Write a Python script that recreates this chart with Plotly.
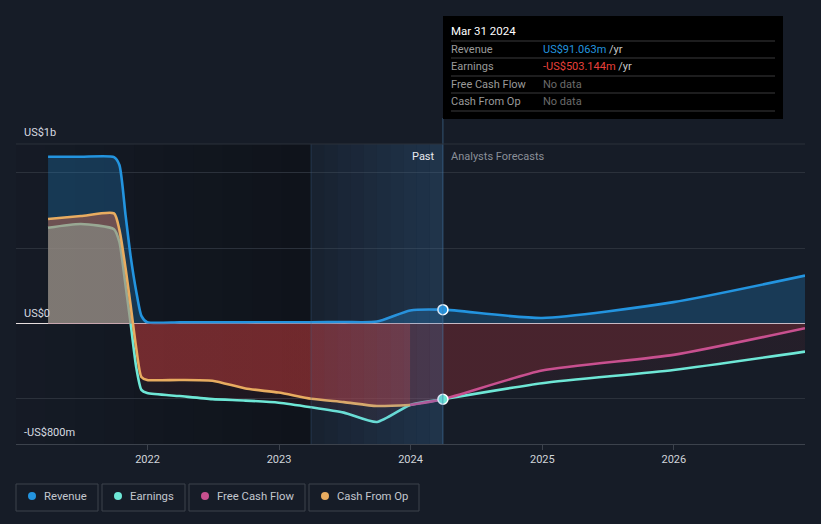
import plotly.graph_objects as go
import pandas as pd

# ---------------- data (US$ millions) ----------------
rev_dates = ["2021-03-31", "2021-06-30", "2021-09-30", "2021-10-15", "2021-11-01", "2021-11-15",
             "2021-12-01", "2021-12-15", "2021-12-31", "2022-03-31", "2022-06-30",
             "2022-09-30", "2022-12-31", "2023-03-31", "2023-06-30", "2023-09-30", "2023-12-31",
             "2024-03-31", "2024-12-31", "2025-12-31", "2026-12-31"]
rev_vals = [1105, 1105, 1103, 1051, 720, 448, 209, 50, 8, 7, 7, 7, 8, 8, 9, 12, 86, 91.063, 36, 141, 317]

earn_dates = ["2021-03-31", "2021-06-30", "2021-09-30", "2021-10-15", "2021-11-01", "2021-11-15",
              "2021-12-01", "2021-12-15", "2021-12-31", "2022-03-31", "2022-06-30",
              "2022-09-30", "2022-12-31", "2023-03-31", "2023-06-30", "2023-09-30", "2023-12-31",
              "2024-03-31", "2024-12-31", "2025-12-31", "2026-12-31"]
earn_vals = [634, 659, 625, 540, 255, 3, -295, -441, -462, -482, -502, -512, -526, -556, -592,
             -654, -541, -503.144, -397, -309, -187]

cfo_dates = ["2021-03-31", "2021-06-30", "2021-09-30", "2021-10-15", "2021-11-01", "2021-11-15",
             "2021-12-01", "2021-12-15", "2021-12-31", "2022-03-31", "2022-06-30",
             "2022-09-30", "2022-12-31", "2023-03-31", "2023-06-30", "2023-09-30", "2023-12-31"]
cfo_vals = [692, 712, 730, 620, 368, 122, -169, -355, -375, -375, -380, -432, -459, -500, -522, -548, -541]

fcf_dates = ["2023-12-31", "2024-03-31", "2024-12-31", "2025-12-31", "2026-12-31"]
fcf_vals = [-541, -503.144, -313, -209, -32]

past_end = "2024-03-31"
past_start = "2023-03-31"
x_range = ["2021-01-01", "2026-12-31"]
y_range = [-800, 1190]
y_grid = [-500, 500, 1000]
x_ticks = ["2022-01-01", "2023-01-01", "2024-01-01", "2025-01-01", "2026-01-01"]
x_tick_text = ["2022", "2023", "2024", "2025", "2026"]

C_REV = "#2394df"
C_EARN = "#6ee7d6"
C_FCF = "#c8508f"
C_CFO = "#e8ac60"
BG = "#161c27"
GRID = "#2b313b"
FONT = "Roboto"

# ---------------- geometry helpers (pixels -> paper) ----------------
PL, PR, PT, PB = 16, 805, 144, 444
W, H = PR - PL, PB - PT


def px(x):
    return (x - PL) / W


def py(y):
    return (PB - y) / H


fig = go.Figure()

spline = dict(shape="spline", smoothing=0.6, width=2.6)


def vgrad(neg, pos):
    brk = (0 - y_range[0]) / (y_range[1] - y_range[0])
    return dict(type="vertical", start=y_range[0], stop=y_range[1],
                colorscale=[[0, neg], [brk, neg], [brk, pos], [1, pos]])


fig.add_trace(go.Scatter(x=rev_dates, y=rev_vals, mode="lines", name="Revenue",
                         line=dict(color=C_REV, **spline), fill="tozeroy",
                         fillcolor="rgba(35,148,223,0.26)"))
fig.add_trace(go.Scatter(x=earn_dates, y=earn_vals, mode="lines", name="Earnings",
                         line=dict(color=C_EARN, **spline), fill="tozeroy",
                         fillgradient=vgrad("rgba(200,60,70,0.08)", "rgba(90,210,215,0.5)")))
fig.add_trace(go.Scatter(x=cfo_dates, y=cfo_vals, mode="lines", name="Cash From Op",
                         line=dict(color=C_CFO, **spline), fill="tozeroy",
                         fillgradient=vgrad("rgba(188,58,58,0.52)", "rgba(195,105,80,0.5)")))
fig.add_trace(go.Scatter(x=fcf_dates, y=fcf_vals, mode="lines", name="Free Cash Flow",
                         line=dict(color=C_FCF, **spline), fill="tozeroy",
                         fillcolor="rgba(180,50,60,0.25)"))

i_rev = rev_dates.index(past_end)
i_earn = earn_dates.index(past_end)
fig.add_trace(go.Scatter(x=[past_end], y=[rev_vals[i_rev]], mode="markers",
                         marker=dict(color=C_REV, size=10, line=dict(color="white", width=1.5))))
fig.add_trace(go.Scatter(x=[past_end], y=[earn_vals[i_earn]], mode="markers",
                         marker=dict(color=C_EARN, size=10, line=dict(color="white", width=1.5))))

shapes = []
# darker past background (gradient towards the highlighted year)
t0 = pd.Timestamp(x_range[0])
t1 = pd.Timestamp(past_start)
n = 10
for k in range(n):
    a = t0 + (t1 - t0) * k / n
    b = t0 + (t1 - t0) * (k + 1) / n
    shapes.append(dict(type="rect", xref="x", yref="paper", x0=a, x1=b, y0=0, y1=1,
                       fillcolor=f"rgba(0,0,0,{0.04 + 0.26 * k / (n - 1):.3f})", line_width=0,
                       layer="below"))
# highlighted last year (gradient)
t2 = pd.Timestamp(past_end)
n = 10
for k in range(n):
    a = t1 + (t2 - t1) * k / n
    b = t1 + (t2 - t1) * (k + 1) / n
    shapes.append(dict(type="rect", xref="x", yref="paper", x0=a, x1=b, y0=0, y1=1,
                       fillcolor=f"rgba(70,140,210,{0.06 + 0.15 * k / (n - 1):.3f})", line_width=0,
                       layer="above"))
# edge lines
shapes.append(dict(type="line", xref="x", yref="paper", x0=past_start, x1=past_start, y0=0, y1=1,
                   line=dict(color="rgba(70,110,150,0.35)", width=1), layer="above"))
shapes.append(dict(type="line", xref="x", yref="paper", x0=past_end, x1=past_end, y0=0, y1=py(118),
                   line=dict(color="rgba(70,120,165,0.6)", width=1), layer="above"))
# top border line
shapes.append(dict(type="line", xref="paper", yref="paper", x0=0, x1=1, y0=1, y1=1,
                   line=dict(color=GRID, width=1)))

# tooltip box
shapes.append(dict(type="rect", xref="paper", yref="paper", x0=px(443), x1=px(783),
                   y0=py(119), y1=py(16), fillcolor="#000000", line_width=0, layer="above"))
for ly in [41, 58, 76, 93, 111]:
    shapes.append(dict(type="line", xref="paper", yref="paper", x0=px(451), x1=px(775),
                       y0=py(ly), y1=py(ly), line=dict(color="#3a3b3d", width=1), layer="above"))

# legend boxes & dots
legend_items = [("Revenue", C_REV, 16, 98, 32, 44),
                ("Earnings", C_EARN, 102, 185, 118, 130),
                ("Free Cash Flow", C_FCF, 189, 305, 205, 217),
                ("Cash From Op", C_CFO, 309, 419, 325, 337)]
annotations = []
PAD = 2  # annotation inner padding in px
for name, col, bx0, bx1, dx, tx in legend_items:
    shapes.append(dict(type="rect", xref="paper", yref="paper", x0=px(bx0), x1=px(bx1),
                       y0=py(511), y1=py(484), line=dict(color="#3c424c", width=1),
                       fillcolor="rgba(0,0,0,0)"))
    shapes.append(dict(type="circle", xref="paper", yref="paper", x0=px(dx - 4), x1=px(dx + 4),
                       y0=py(500), y1=py(492), fillcolor=col, line_width=0))
    annotations.append(dict(xref="paper", yref="paper", x=px(tx - PAD), y=py(496.5), text=name,
                            showarrow=False, xanchor="left", yanchor="middle",
                            font=dict(family=FONT, size=11.3, color="#c3c7ce")))

# y labels
for txt, yc in [("US$1b", 132), ("US$0", 313), ("-US$800m", 432)]:
    annotations.append(dict(xref="paper", yref="paper", x=px(24 - PAD), y=py(yc), text=txt,
                            showarrow=False, xanchor="left", yanchor="middle",
                            font=dict(family=FONT, size=11, color="#d6dae0")))

# Past / forecast labels
annotations.append(dict(xref="paper", yref="paper", x=px(435 + PAD), y=py(156), text="Past",
                        showarrow=False, xanchor="right", yanchor="middle",
                        font=dict(family=FONT, size=11, color="#e8eaee")))
annotations.append(dict(xref="paper", yref="paper", x=px(451 - PAD), y=py(156), text="Analysts Forecasts",
                        showarrow=False, xanchor="left", yanchor="middle",
                        font=dict(family=FONT, size=11, color="#8a8f98")))

# tooltip texts
annotations.append(dict(xref="paper", yref="paper", x=px(451 - PAD), y=py(31), text="Mar 31 2024",
                        showarrow=False, xanchor="left", yanchor="middle",
                        font=dict(family=FONT, size=11.5, color="#ffffff")))
rows = [("Revenue", f"<span style='color:{C_REV}'>US$91.063m</span> /yr", 49.5),
        ("Earnings", "<span style='color:#e8403b'>-US$503.144m</span> /yr", 66.5),
        ("Free Cash Flow", "<span style='color:#6b6b6b'>No data</span>", 84),
        ("Cash From Op", "<span style='color:#6b6b6b'>No data</span>", 101)]
for lab, val, yc in rows:
    annotations.append(dict(xref="paper", yref="paper", x=px(451 - PAD), y=py(yc), text=lab,
                            showarrow=False, xanchor="left", yanchor="middle",
                            font=dict(family=FONT, size=11, color="#9a9a9a")))
    annotations.append(dict(xref="paper", yref="paper", x=px(543 - PAD), y=py(yc), text=val,
                            showarrow=False, xanchor="left", yanchor="middle",
                            font=dict(family=FONT, size=11, color="#c8c8c8")))

fig.update_layout(
    width=821, height=524,
    margin=dict(l=PL, r=821 - PR, t=PT, b=524 - PB),
    paper_bgcolor=BG, plot_bgcolor=BG,
    showlegend=False, hovermode=False,
    shapes=shapes, annotations=annotations,
    font=dict(family=FONT, color="#d0d4da"),
    xaxis=dict(type="date", range=x_range, tickvals=x_ticks, ticktext=x_tick_text,
               showgrid=False, zeroline=False, showline=True, linecolor="#3c424c", linewidth=1,
               ticks="outside", ticklen=5, tickcolor="#3c424c",
               tickfont=dict(family=FONT, size=11, color="#d0d4da")),
    yaxis=dict(range=y_range, tickvals=y_grid, showticklabels=False, showgrid=True,
               gridcolor=GRID, gridwidth=1, zeroline=True, zerolinecolor="#e6dede",
               zerolinewidth=1, showline=False),
)

fig.write_html("out.html", config={"displayModeBar": False},
               post_script="document.body.style.margin='0px';document.body.style.overflow='hidden';"
                           f"document.body.style.background='{BG}';")
